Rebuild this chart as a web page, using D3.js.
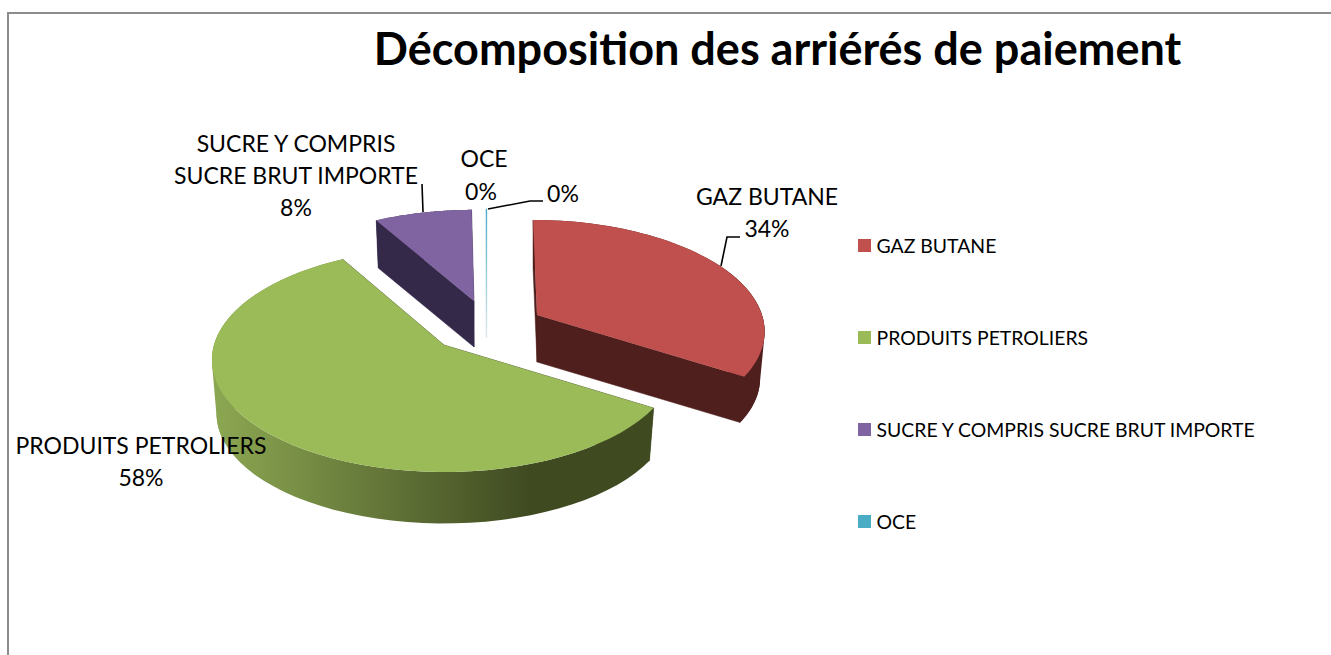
<!DOCTYPE html>
<html><head><meta charset="utf-8">
<script src="https://cdn.jsdelivr.net/npm/d3@7"></script>
<style>html,body{margin:0;padding:0;background:#fff}svg{display:block}text{font-family:Lato,"Open Sans",sans-serif;fill:#000}</style>
</head><body><svg id="c" width="1331" height="655"></svg>
<script>
const titleText = "Décomposition des arriérés de paiement";
const categories = ["GAZ BUTANE","PRODUITS PETROLIERS","SUCRE Y COMPRIS SUCRE BRUT IMPORTE","OCE",""];
const values = [34,58,8,0.2,0];
const legendNames = categories.filter(d=>d);
const topColors = ["#c0504d","#9bbb59","#8064a2","#4bacc6","#f79646"];
const sideColors = ["#4f1f1d","#3f4a21","#35294a","#bcdde6","#f79646"];
// geometry of the exploded perspective pie, per slice
const apexX = [537,444,474,488,488];
const apexY = [315,345,301,300,300];
const depth = [47,54,46,38,0];
const radiusY = [0.98,1,0.94,0.94,0.94];
const RX=[225,230,222,228,228], lean=[4,0,0,0,0], RY=110, K=0.134, SHRINK=0.98;
// angular span (degrees) around each slice's silhouette edge, where the wall is swept
const sweep=[[60,122],[250,300],null,null,null];

const svg=d3.select("#c");
const defs=svg.append("defs");
const grad=defs.append("linearGradient").attr("id","gw").attr("gradientUnits","userSpaceOnUse")
  .attr("x1",215).attr("x2",530).attr("y1",0).attr("y2",0);
grad.append("stop").attr("offset",0).attr("stop-color","#8ca752");
grad.append("stop").attr("offset",1).attr("stop-color","#3f4a21");
const fade=defs.append("linearGradient").attr("id","gf").attr("x1",0).attr("x2",0).attr("y1",0).attr("y2",1);
fade.append("stop").attr("offset",0).attr("stop-color","#4bacc6");
fade.append("stop").attr("offset",1).attr("stop-color","#dfeaee");

// frame
svg.append("path").attr("d",d3.line()([[8,655],[8,13],[1331,13]])).attr("fill","none").attr("stroke","#8c8c8c").attr("stroke-width",2);

const pie=d3.pie().sort(null).value(d=>d).startAngle(0).endAngle(2*Math.PI);
const arcs=pie(values);
const line=d3.line();
function pt(i,th,r,lower){
  const u=Math.sin(th)*r, v=-Math.cos(th)*r, s=1/(1-K*v);
  const f=lower?SHRINK:1;
  return [apexX[i]+(RX[i]*u*s+lean[i]*v)*f, apexY[i]+RY*radiusY[i]*v*s*f+(lower?depth[i]:0)];
}
function arcPts(i,a,b,lower){
  return d3.range(0,61).map(t=>pt(i,a+(b-a)*t/60,1,lower));
}
const rad=d=>d*Math.PI/180;
const order=[2,3,0,1];
order.forEach(i=>{
  const d=arcs[i], a=d.startAngle, b=d.endAngle, g=svg.append("g");
  const wallFill=i===1?"url(#gw)":sideColors[i];
  if(i!==3){
    const apexT=pt(i,0,0,false), apexB=pt(i,0,0,true);
    [a,b].forEach(th=>{
      g.append("path").attr("fill",sideColors[i]).attr("stroke",sideColors[i]).attr("stroke-width",.5)
       .attr("d",line([apexT,pt(i,th,1,false),pt(i,th,1,true),apexB])+"Z");
    });
    g.append("path").attr("fill",wallFill)
     .attr("d",line(arcPts(i,a,b,false).concat(arcPts(i,b,a,true)))+"Z");
    if(sweep[i]){
      const [s0,s1]=sweep[i].map(rad);
      g.append("path").attr("fill",wallFill)
       .attr("d",line(d3.polygonHull(arcPts(i,s0,s1,false).concat(arcPts(i,s0,s1,true))))+"Z");
    }
    g.append("path").attr("fill",topColors[i])
     .attr("d",line([apexT].concat(arcPts(i,a,b,false)))+"Z");
  } else {
    const p=pt(i,(a+b)/2,1,false);
    g.append("rect").attr("x",p[0]-1).attr("y",p[1]).attr("width",1.4).attr("height",apexY[i]+depth[i]-p[1]).attr("fill","url(#gf)");
  }
});

// leader lines
const leaders=[
 [[721,266],[727,237],[740,237]],
 [[423,212],[422,184]],
 [[488,209],[530,201],[543,201]]
];
svg.append("g").selectAll("path").data(leaders).join("path").attr("d",d=>line(d))
  .attr("fill","none").attr("stroke","#000").attr("stroke-width",1.6);

const pct=v=>Math.round(v/d3.sum(values)*100)+"%";
const labelLines=[
 [["GAZ BUTANE",767,197],[pct(values[0]),767,229]],
 [["PRODUITS PETROLIERS",141,446],[pct(values[1]),141,478]],
 [["SUCRE Y COMPRIS",296,144],["SUCRE BRUT IMPORTE",296,176],[pct(values[2]),296,208]],
 [["OCE",484,159],[pct(values[3]),481,192]],
 [[pct(values[4]),563,194]]
];
svg.append("g").selectAll("text").data(labelLines.flat()).join("text")
  .attr("x",d=>d[1]).attr("y",d=>d[2]).attr("dy","0.35em").attr("text-anchor","middle")
  .attr("font-size",23).text(d=>d[0]);

svg.append("text").attr("x",777.5).attr("y",49).attr("dy","0.35em").attr("text-anchor","middle")
  .attr("font-size",45).attr("font-weight",700).text(titleText);

const ly=d3.scalePoint().domain(legendNames).range([245.5,521.5]);
const lg=svg.append("g").selectAll("g").data(legendNames).join("g").attr("transform",d=>`translate(858,${ly(d)})`);
lg.append("rect").attr("x",0).attr("y",-6.5).attr("width",13).attr("height",13).attr("fill",(d,i)=>topColors[i]);
lg.append("text").attr("x",18.5).attr("dy","0.38em").attr("font-size",19.4).text(d=>d);
</script></body></html>
